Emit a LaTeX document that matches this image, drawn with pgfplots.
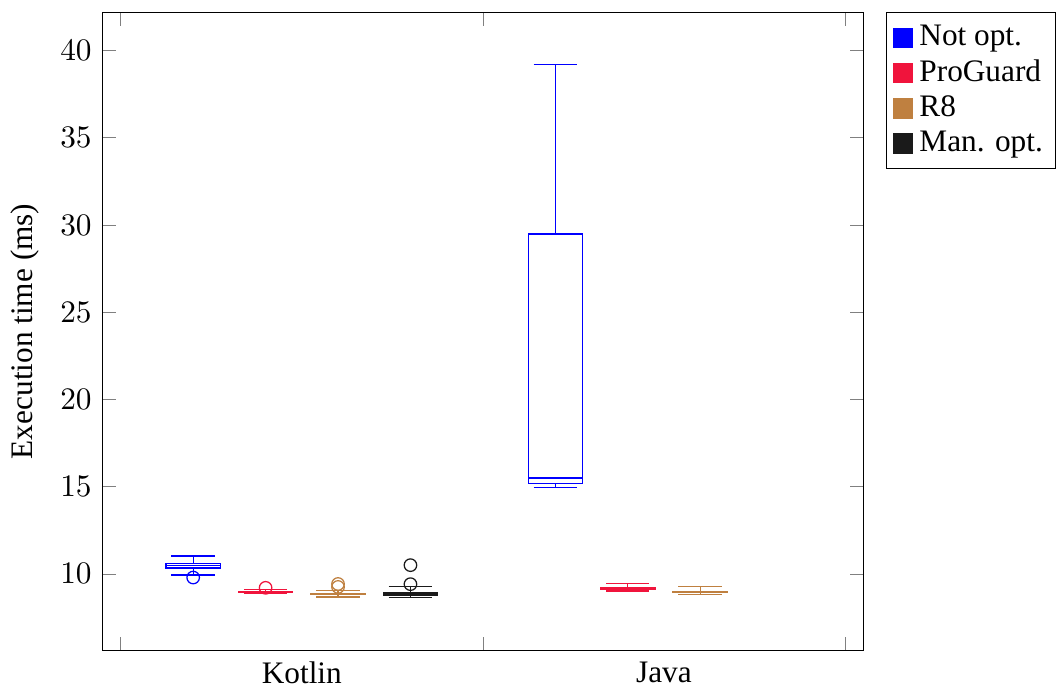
\documentclass[border=0pt]{standalone}
\usepackage{fontspec}
\setmainfont{Liberation Serif}
\usepackage{pgfplots}
\pgfplotsset{compat=1.18}
\usepgfplotslibrary{statistics}

\definecolor{cNot}{RGB}{0,0,255}
\definecolor{cPro}{RGB}{240,20,60}
\definecolor{cR8}{RGB}{191,128,64}
\definecolor{cMan}{RGB}{26,26,26}

\begin{document}
\begin{tikzpicture}
\begin{axis}[
  scale only axis,
  width=243pt, height=204pt,
  xmin=-0.25, xmax=10.25,
  ymin=5.6, ymax=42.2,
  ytick={10,15,20,25,30,35,40},
  xtick={0,5,10}, xticklabels={},
  extra x ticks={2.5,7.5},
  extra x tick labels={Kotlin,Java},
  extra x tick style={major tick length=0pt},
  ylabel={Execution time (ms)},
  boxplot/draw direction=y,
  boxplot/box extend=0.75,
  legend style={at={(1.03,1)}, anchor=north west, draw=black,
    row sep=-1pt, inner sep=2pt,
    /tikz/every even column/.append style={column sep=0pt}},
  legend image code/.code={\fill[#1, draw=none] (0pt,-3.3pt) rectangle (6.5pt,3.3pt);},
  legend cell align=left,
]
\addlegendimage{fill=cNot}
\addlegendimage{fill=cPro}
\addlegendimage{fill=cR8}
\addlegendimage{fill=cMan}

% Kotlin
\addplot[cNot, mark=o, forget plot, boxplot prepared={draw position=1,
  lower whisker=9.93, lower quartile=10.34, median=10.47,
  upper quartile=10.59, upper whisker=11.02}] coordinates {(0,9.79)};
\addplot[cPro, mark=o, forget plot, boxplot prepared={draw position=2,
  lower whisker=8.87, lower quartile=8.92, median=8.96,
  upper quartile=9.0, upper whisker=9.1}] coordinates {(0,9.2)};
\addplot[cR8, mark=o, forget plot, boxplot prepared={draw position=3,
  lower whisker=8.68, lower quartile=8.81, median=8.85,
  upper quartile=8.89, upper whisker=9.04}] coordinates {(0,9.25) (0,9.42)};
\addplot[cMan, mark=o, forget plot, boxplot prepared={draw position=4,
  lower whisker=8.66, lower quartile=8.78, median=8.84,
  upper quartile=8.95, upper whisker=9.29}] coordinates {(0,9.41) (0,10.5)};

% Java
\addplot[cNot, mark=o, forget plot, boxplot prepared={draw position=6,
  lower whisker=14.96, lower quartile=15.16, median=15.5,
  upper quartile=29.48, upper whisker=39.18}] coordinates {};
\addplot[cPro, mark=o, forget plot, boxplot prepared={draw position=7,
  lower whisker=9.02, lower quartile=9.12, median=9.16,
  upper quartile=9.2, upper whisker=9.43}] coordinates {};
\addplot[cR8, mark=o, forget plot, boxplot prepared={draw position=8,
  lower whisker=8.81, lower quartile=8.92, median=8.95,
  upper quartile=8.98, upper whisker=9.27}] coordinates {};

\legend{Not opt., ProGuard, R8, Man. opt.}
\end{axis}
\path ([yshift=3.9pt]current axis.north east);
\end{tikzpicture}
\end{document}
